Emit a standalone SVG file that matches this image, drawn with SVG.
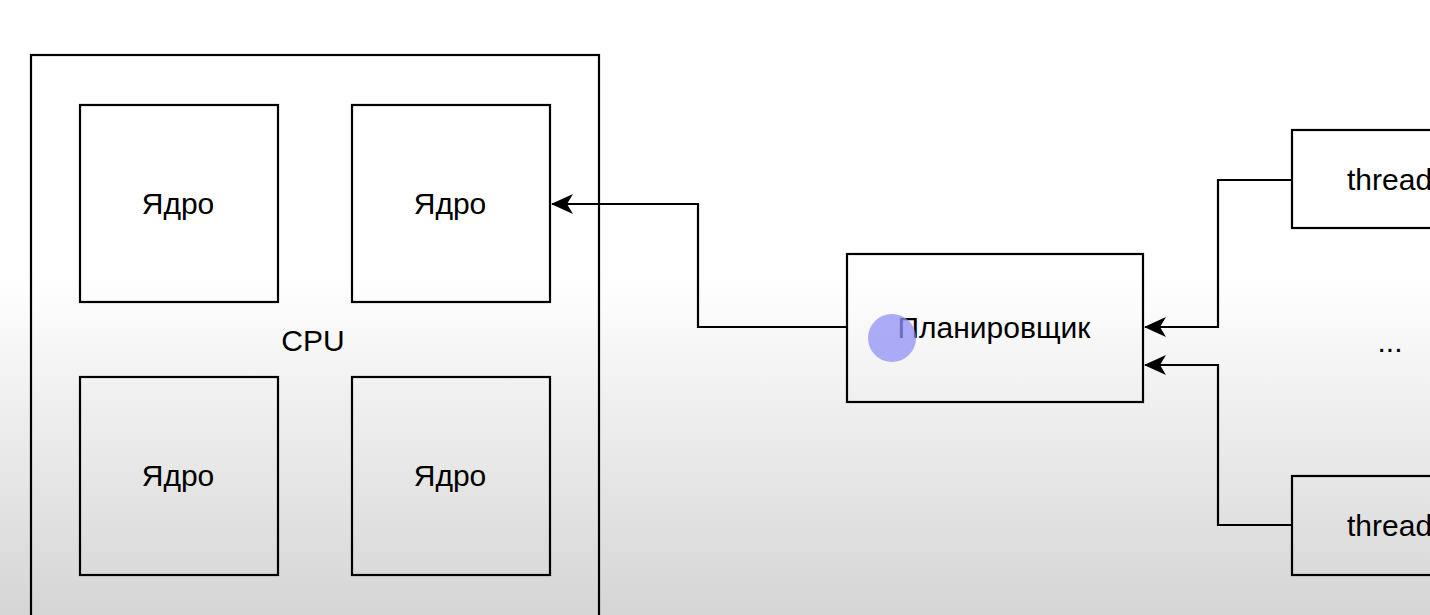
<svg xmlns="http://www.w3.org/2000/svg" width="1430" height="615" viewBox="0 0 1430 615">
  <defs>
    <linearGradient id="bg" x1="0" y1="0" x2="0" y2="1">
      <stop offset="0" stop-color="#ffffff"/>
      <stop offset="0.45" stop-color="#ffffff"/>
      <stop offset="1" stop-color="#d5d5d5"/>
    </linearGradient>
    <marker id="arr" viewBox="0 0 24 20" refX="21" refY="10" markerWidth="24" markerHeight="20" markerUnits="userSpaceOnUse" orient="auto">
      <path d="M22,10 L0,0 L6,10 L0,20 Z" fill="#000"/>
    </marker>
    <style>
      .box { fill: none; stroke: #000; stroke-width: 2.2; }
      .lbl { font-family: "Liberation Sans", Arial, sans-serif; font-size: 30px; fill: #000; text-anchor: middle; dominant-baseline: central; }
      .edge { fill: none; stroke: #000; stroke-width: 2.2; }
    </style>
  </defs>
  <rect x="0" y="0" width="1430" height="615" fill="url(#bg)"/>

  <g id="cpu">
    <rect class="box" x="31" y="55" width="568" height="600"/>
    <text class="lbl" x="313" y="340">CPU</text>
  </g>
  <g id="core1">
    <rect class="box" x="80" y="105" width="198" height="197"/>
    <text class="lbl" x="178" y="203">Ядро</text>
  </g>
  <g id="core2">
    <rect class="box" x="352" y="105" width="198" height="197"/>
    <text class="lbl" x="450" y="203">Ядро</text>
  </g>
  <g id="core3">
    <rect class="box" x="80" y="377" width="198" height="198"/>
    <text class="lbl" x="178" y="475">Ядро</text>
  </g>
  <g id="core4">
    <rect class="box" x="352" y="377" width="198" height="198"/>
    <text class="lbl" x="450" y="475">Ядро</text>
  </g>
  <g id="scheduler">
    <rect class="box" x="847" y="254" width="296" height="148"/>
    <text class="lbl" x="994" y="327">Планировщик</text>
  </g>
  <g id="thread1">
    <rect class="box" x="1292" y="130" width="200" height="98"/>
    <text class="lbl" x="1347" y="179" style="text-anchor:start">thread</text>
  </g>
  <g id="dots">
    <text class="lbl" x="1390" y="341">...</text>
  </g>
  <g id="thread2">
    <rect class="box" x="1292" y="476" width="200" height="99"/>
    <text class="lbl" x="1347" y="525" style="text-anchor:start">thread</text>
  </g>

  <g id="connectors">
    <path class="edge" d="M847,327 H698 V204 H552" marker-end="url(#arr)"/>
    <path class="edge" d="M1292,180 H1218 V327 H1145" marker-end="url(#arr)"/>
    <path class="edge" d="M1292,525 H1218 V365 H1145" marker-end="url(#arr)"/>
  </g>

  <circle cx="892" cy="338" r="24" fill="#9090f5" opacity="0.75"/>
</svg>
